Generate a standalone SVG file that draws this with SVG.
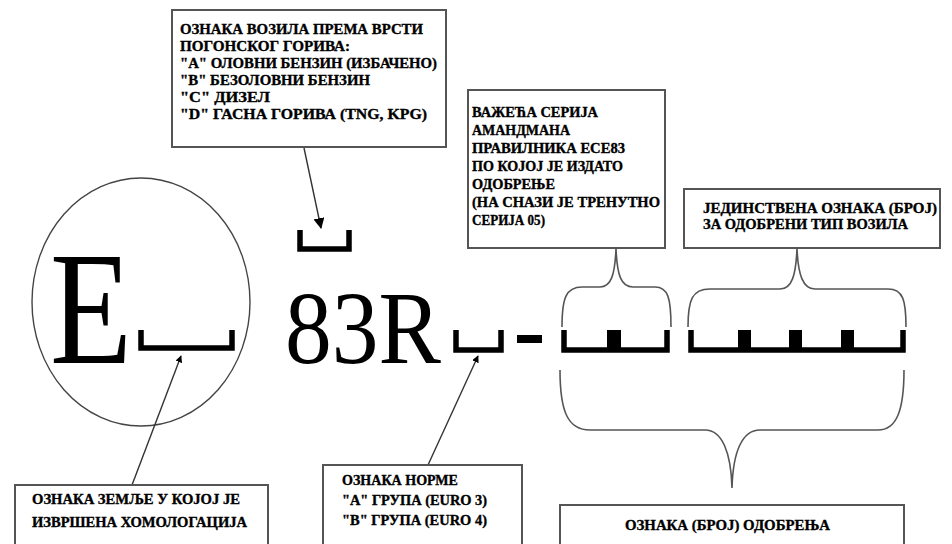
<svg xmlns="http://www.w3.org/2000/svg" width="952" height="544" viewBox="0 0 952 544">
<style>
.box{fill:#fff;stroke:#555;stroke-width:2}
.t{font-family:"Liberation Serif","DejaVu Serif",serif;font-weight:bold;fill:#000}
.h{stroke:#000;stroke-width:0.35}
.slot{fill:none;stroke:#000;stroke-width:5.5;stroke-linejoin:miter;stroke-linecap:butt}
.blk{fill:#000}
.con{fill:none;stroke:#333;stroke-width:1.4}
.brace{fill:none;stroke:#555;stroke-width:1.6}
</style>
<defs>
<marker id="ah" viewBox="0 0 10 10" refX="9" refY="5" markerWidth="7" markerHeight="7" markerUnits="userSpaceOnUse" orient="auto">
<path d="M0,0 L10,5 L0,10 Z" fill="#000"/>
</marker>
<marker id="ah2" viewBox="0 0 10 10" refX="9" refY="5" markerWidth="11" markerHeight="11" markerUnits="userSpaceOnUse" orient="auto">
<path d="M0,0 L10,5 L0,10 Z" fill="#000"/>
</marker>
</defs>
<rect width="952" height="544" fill="#fff"/>

<g id="mark">
<ellipse cx="141" cy="302" rx="109" ry="124" fill="none" stroke="#444" stroke-width="1.4"/>
<text class="t" x="50" y="363" font-size="160" textLength="82" lengthAdjust="spacingAndGlyphs" style="font-weight:normal">E</text>
<path class="slot" d="M141,330 V348 H232 V330"/>
<path class="slot" d="M300,230 V249 H349 V230"/>
<text class="t" x="285" y="363" font-size="104" textLength="156" lengthAdjust="spacingAndGlyphs" style="font-weight:normal">83R</text>
<path class="slot" d="M456,330 V350 H501 V330"/>
<rect class="blk" x="517" y="335" width="25" height="8"/>
<path class="slot" d="M564,330 V350 H667 V330"/>
<rect class="blk" x="607" y="330" width="14" height="20"/>
<path class="slot" d="M691,330 V350 H903 V330"/>
<rect class="blk" x="738" y="330" width="13" height="20"/>
<rect class="blk" x="789" y="330" width="13" height="20"/>
<rect class="blk" x="841" y="330" width="13" height="20"/>
</g>

<g id="braces">
<path class="brace" d="M562,327 C562,298 566,287 582,287 L600,287 C611,287 615,275 616,248 M616,248 C617,275 621,287 633,287 L655,287 C668,287 671,298 671,327"/>
<path class="brace" d="M688,327 C688,300 692,289 710,289 L780,289 C792,289 796,275 797,248 M797,248 C798,275 803,289 815,289 L888,289 C903,289 906,300 906,327"/>
<path class="brace" d="M560,370 C560,412 568,430 590,430 L705,430 C722,430 731,452 732,488 M732,488 C733,452 742,430 760,430 L878,430 C896,430 904,412 904,370"/>
</g>

<g id="connectors">
<line class="con" x1="304" y1="148" x2="321" y2="228" marker-end="url(#ah2)"/>
<line class="con" x1="132" y1="485" x2="181" y2="356" marker-end="url(#ah)"/>
<line class="con" x1="428" y1="465" x2="478" y2="356" marker-end="url(#ah)"/>
</g>

<g id="fuel">
<rect class="box" x="172" y="10" width="274" height="137"/>
<text class="t h" font-size="15">
<tspan x="180" y="34" textLength="243" lengthAdjust="spacingAndGlyphs">ОЗНАКА ВОЗИЛА ПРЕМА ВРСТИ</tspan>
<tspan x="180" y="51" textLength="170" lengthAdjust="spacingAndGlyphs">ПОГОНСКОГ ГОРИВА:</tspan>
<tspan x="180" y="68" textLength="257" lengthAdjust="spacingAndGlyphs">"А" ОЛОВНИ БЕНЗИН (ИЗБАЧЕНО)</tspan>
<tspan x="180" y="85" textLength="190" lengthAdjust="spacingAndGlyphs">"В" БЕЗОЛОВНИ БЕНЗИН</tspan>
<tspan x="180" y="102" textLength="90" lengthAdjust="spacingAndGlyphs">"С" ДИЗЕЛ</tspan>
<tspan x="180" y="119" textLength="247" lengthAdjust="spacingAndGlyphs">"D" ГАСНА ГОРИВА (TNG, KPG)</tspan>
</text>
</g>

<g id="series">
<rect class="box" x="468" y="90" width="197" height="158"/>
<text class="t h" font-size="14">
<tspan x="472" y="117" textLength="126" lengthAdjust="spacingAndGlyphs">ВАЖЕЋА СЕРИЈА</tspan>
<tspan x="472" y="135" textLength="98" lengthAdjust="spacingAndGlyphs">АМАНДМАНА</tspan>
<tspan x="472" y="153" textLength="153" lengthAdjust="spacingAndGlyphs">ПРАВИЛНИКА ЕСЕ83</tspan>
<tspan x="472" y="171" textLength="151" lengthAdjust="spacingAndGlyphs">ПО КОЈОЈ ЈЕ ИЗДАТО</tspan>
<tspan x="472" y="189" textLength="83" lengthAdjust="spacingAndGlyphs">ОДОБРЕЊЕ</tspan>
<tspan x="472" y="207" textLength="188" lengthAdjust="spacingAndGlyphs">(НА СНАЗИ ЈЕ ТРЕНУТНО</tspan>
<tspan x="472" y="225" textLength="73" lengthAdjust="spacingAndGlyphs">СЕРИЈА 05)</tspan>
</text>
</g>

<g id="unique">
<rect class="box" x="684" y="189" width="256" height="59"/>
<text class="t h" font-size="14">
<tspan x="703" y="213" textLength="234" lengthAdjust="spacingAndGlyphs">ЈЕДИНСТВЕНА ОЗНАКА (БРОЈ)</tspan>
<tspan x="703" y="229" textLength="205" lengthAdjust="spacingAndGlyphs">ЗА ОДОБРЕНИ ТИП ВОЗИЛА</tspan>
</text>
</g>

<g id="country">
<rect class="box" x="15" y="485" width="253" height="64"/>
<text class="t h" font-size="14">
<tspan x="32" y="504" textLength="208" lengthAdjust="spacingAndGlyphs">ОЗНАКА ЗЕМЉЕ У КОЈОЈ ЈЕ</tspan>
<tspan x="32" y="527" textLength="215" lengthAdjust="spacingAndGlyphs">ИЗВРШЕНА ХОМОЛОГАЦИЈА</tspan>
</text>
</g>

<g id="norm">
<rect class="box" x="323" y="465" width="199" height="84"/>
<text class="t h" font-size="14">
<tspan x="342" y="485" textLength="116" lengthAdjust="spacingAndGlyphs">ОЗНАКА НОРМЕ</tspan>
<tspan x="342" y="505" textLength="145" lengthAdjust="spacingAndGlyphs">"А" ГРУПА (EURO 3)</tspan>
<tspan x="342" y="525" textLength="145" lengthAdjust="spacingAndGlyphs">"В" ГРУПА (EURO 4)</tspan>
</text>
</g>

<g id="approval">
<rect class="box" x="560" y="505" width="344" height="44"/>
<text class="t h" font-size="15" x="625" y="530" textLength="205" lengthAdjust="spacingAndGlyphs">ОЗНАКА (БРОЈ) ОДОБРЕЊА</text>
</g>
</svg>
